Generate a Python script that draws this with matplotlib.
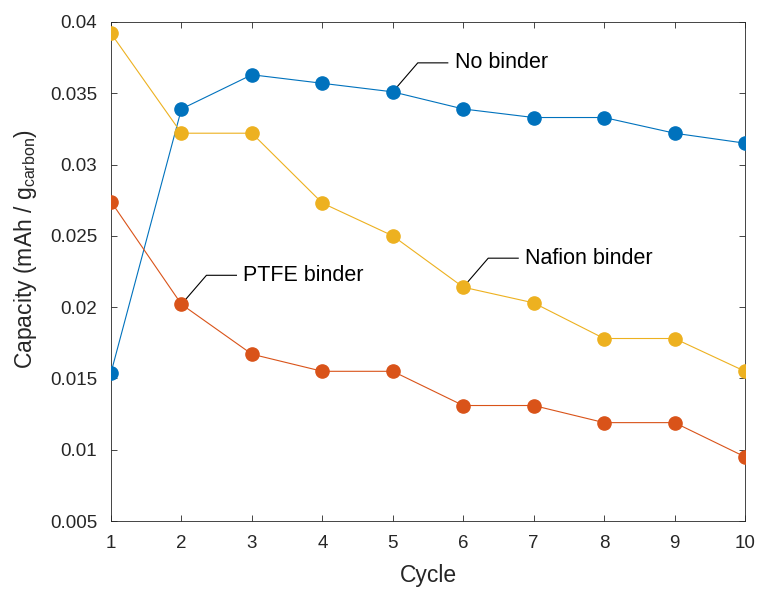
import numpy as np
import matplotlib.pyplot as plt

plt.rcParams['font.family'] = ['Liberation Sans', 'DejaVu Sans']

# data
cycles = [1, 2, 3, 4, 5, 6, 7, 8, 9, 10]
no_binder = [0.0154, 0.0339, 0.0363, 0.0357, 0.0351, 0.0339, 0.0333, 0.0333, 0.0322, 0.0315]
ptfe_binder = [0.0274, 0.0202, 0.0167, 0.0155, 0.0155, 0.0131, 0.0131, 0.0119, 0.0119, 0.0095]
nafion_binder = [0.0392, 0.0322, 0.0322, 0.0273, 0.0250, 0.0214, 0.0203, 0.0178, 0.0178, 0.0155]
yticks = [0.005, 0.01, 0.015, 0.02, 0.025, 0.03, 0.035, 0.04]
yticklabels = ['0.005', '0.01', '0.015', '0.02', '0.025', '0.03', '0.035', '0.04']

fig = plt.figure(figsize=(7.59, 5.89), dpi=100)
ax = fig.add_axes([111/759, 1 - 521/589, 634/759, 499/589])

ax.plot(cycles, no_binder, '-o', color='#0072BD', lw=0.8, ms=9.5, zorder=3)
ax.plot(cycles, ptfe_binder, '-o', color='#D95319', lw=0.8, ms=9.5, zorder=3)
ax.plot(cycles, nafion_binder, '-o', color='#EDB120', lw=0.8, ms=9.5, zorder=3)

ax.set_xlim(1, 10)
ax.set_ylim(0.005, 0.04)
ax.set_xticks(cycles)
ax.set_yticks(yticks)
ax.set_yticklabels(yticklabels)
ax.tick_params(direction='in', top=True, right=True, labelsize=13.5, length=4.5,
               width=0.6, pad=10, colors='#262626')
for s in ax.spines.values():
    s.set_linewidth(0.6)
    s.set_color('#262626')

ax.set_xlabel('Cycle', fontsize=16.5, color='#262626', labelpad=9)
ax.set_ylabel('Capacity (mAh / g$_{\\mathregular{carbon}}$)', fontsize=16.5,
              color='#262626')
ax.yaxis.set_label_coords(-0.114, 0.545)


# callout: leader line from point, then text (offsets in pixels)
def callout(x, y, label):
    px, py = ax.transData.transform((x, y))
    xs = [px, px + 25, px + 55]
    ys = [py, py + 29, py + 29]
    ax.plot(xs, ys, color='black', lw=0.8, transform=None, zorder=2)
    ax.text(px + 62, py + 29, label, fontsize=15.5, va='center', ha='left',
            transform=None, color='black')


callout(cycles[4], no_binder[4], 'No binder')
callout(cycles[1], ptfe_binder[1], 'PTFE binder')
callout(cycles[5], nafion_binder[5], 'Nafion binder')

fig.savefig('out.png', dpi=100)
